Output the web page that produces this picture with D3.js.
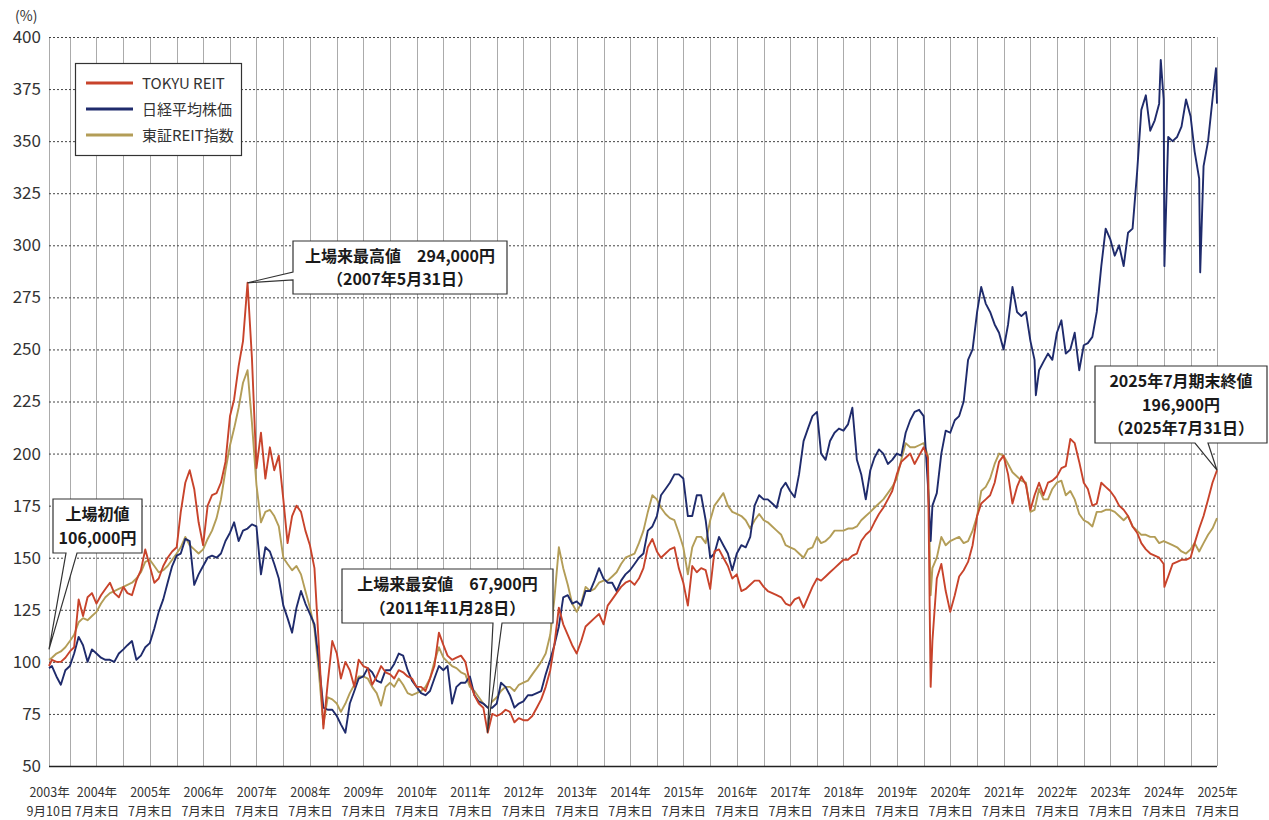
<!DOCTYPE html>
<html>
<head>
<meta charset="utf-8">
<script src="https://cdn.jsdelivr.net/npm/d3@7"></script>
<style>
body { margin: 0; background: #fff; }
svg { display: block; font-family: "Noto Sans CJK JP", "Noto Sans", sans-serif; }
</style>
</head>
<body>
<div id="chart"></div>
<script>
// 上場日（2003年9月10日）を起点とした指数 (%)
// 値は2003年9月末から2025年7月末までの月末値
var startDate = "2003-09-10";
var endDate = "2025-07-31";
var startTokyu = 98, startNikkei = 97, startReit = 101;

var tokyu = [
  101, 100, 100, 102,
  105, 107, 130, 122, 131, 133, 128, 132, 135, 138, 133, 131,
  136, 133, 132, 139, 144, 154, 146, 138, 140, 146, 150, 153,
  155, 172, 186, 192, 183, 167, 156, 175, 180, 181, 186, 196,
  218, 226, 242, 254, 282, 246, 193, 210, 188, 203, 192, 199,
  178, 157, 170, 175, 172, 163, 156, 145, 108, 68, 90, 110,
  104, 92, 100, 96, 88, 101, 98, 97, 89, 93, 98, 95,
  94, 92, 96, 95, 93, 92, 88, 88, 86, 92, 98, 114,
  108, 103, 101, 102, 103, 100, 90, 84, 80, 78, 66, 75,
  74, 75, 77, 76, 71, 73, 72, 72, 74, 78, 82, 88,
  96, 108, 126, 118, 113, 108, 104, 110, 117, 119, 121, 123,
  118, 127, 130, 133, 136, 138, 139, 137, 140, 145, 155, 159,
  153, 150, 152, 154, 155, 145, 138, 127, 146, 143, 145, 144,
  135, 153, 154, 150, 146, 140, 142, 134, 135, 137, 139, 139,
  136, 134, 133, 132, 131, 128, 127, 130, 131, 126, 131, 136,
  140, 139, 141, 143, 145, 147, 149, 149, 151, 152, 158, 161,
  163, 167, 171, 174, 178, 182, 190, 196, 198, 200, 195, 199,
  203, 198, 110, 140, 147, 134, 124, 132, 141, 144, 148, 156,
  170, 176, 178, 180, 186, 196, 199, 190, 176, 184, 189, 185,
  173, 180, 186, 180, 186, 187, 189, 193, 194, 207, 205, 196,
  186, 183, 175, 176, 186, 184, 182, 179, 175, 173, 170, 165,
  162, 157, 154, 152, 151, 150, 147, 141, 147, 148, 149, 149,
  150, 157, 164, 170, 178, 186, 192
];

var nikkei = [
  98, 93, 89, 96,
  98, 104, 112, 108, 100, 106, 104, 102, 101, 101, 100, 104,
  106, 108, 110, 101, 103, 107, 109, 116, 124, 130, 138, 146,
  151, 152, 159, 158, 137, 142, 146, 150, 151, 150, 152, 158,
  162, 167, 158, 163, 164, 166, 165, 142, 155, 153, 147, 140,
  127, 121, 114, 126, 134, 128, 123, 118, 100, 78, 77, 77,
  74, 70, 66, 80, 86, 92, 93, 97, 95, 91, 90, 96,
  96, 99, 104, 103, 96, 91, 88, 85, 84, 86, 92, 98,
  96, 98, 80, 88, 90, 90, 93, 84, 81, 80, 78, 78,
  80, 90, 88, 84, 78, 80, 81, 84, 84, 85, 86, 94,
  101, 108, 117, 131, 132, 128, 129, 127, 134, 134, 139, 145,
  140, 138, 138, 134, 139, 142, 144, 147, 150, 152, 163, 165,
  170, 180, 183, 186, 190, 190, 188, 170, 170, 180, 180, 168,
  150, 152, 160, 156, 152, 144, 152, 156, 155, 160, 175, 180,
  178, 178, 176, 174, 183, 186, 182, 179, 190, 206, 212, 218,
  220, 200, 197, 206, 210, 212, 211, 214, 222, 197, 190, 178,
  192, 198, 202, 200, 195, 197, 200, 199, 210, 216, 220, 221,
  218, 185, 175, 181, 200, 211, 210, 216, 218, 225, 245, 250,
  268, 280, 272, 268, 262, 258, 250, 262, 280, 268, 266, 268,
  254, 245, 240, 244, 248, 245, 258, 264, 248, 250, 258, 240,
  252, 253, 256, 268, 290, 308, 303, 295, 300, 290, 306, 308,
  335, 365, 372, 355, 360, 368, 370, 352, 350, 352, 357, 370,
  362, 345, 332, 338, 350, 370, 368
];

var reit = [
  102, 104, 105, 107,
  110, 113, 119, 121, 120, 122, 124, 128, 131, 133, 134, 135,
  136, 137, 138, 140, 143, 148, 149, 146, 143, 144, 146, 149,
  152, 155, 160, 156, 154, 152, 154, 159, 163, 169, 178, 192,
  204, 212, 222, 234, 240, 215, 185, 167, 172, 173, 170, 165,
  150, 147, 144, 146, 142, 134, 126, 116, 95, 70, 83, 82,
  80, 76, 80, 85, 89, 93, 93, 92, 88, 85, 79, 88,
  90, 88, 92, 89, 85, 84, 85, 86, 88, 92, 100, 107,
  102, 100, 98, 97, 95, 94, 88, 86, 83, 80, 78, 81,
  83, 86, 88, 88, 86, 89, 90, 91, 94, 97, 100, 104,
  113, 130, 155, 145, 137, 128, 124, 128, 136, 134, 135, 138,
  139, 139, 141, 143, 147, 150, 151, 152, 157, 163, 172, 180,
  178, 174, 171, 169, 168, 162, 155, 142, 155, 160, 160, 157,
  168, 175, 178, 181, 175, 172, 171, 170, 168, 164, 168, 171,
  168, 167, 165, 163, 161, 156, 155, 154, 152, 150, 154, 155,
  160, 157, 158, 160, 163, 163, 163, 164, 164, 165, 168, 170,
  172, 174, 176, 178, 181, 184, 188, 197, 205, 203, 203, 204,
  205, 199, 145, 150, 160, 156, 158, 159, 160, 157, 158, 163,
  170, 182, 184, 188, 195, 200, 199, 195, 191, 189, 187, 186,
  172, 173, 183, 178, 178, 183, 186, 187, 180, 182, 178, 171,
  168, 167, 165, 172, 172, 173, 173, 172, 170, 168, 170, 165,
  163, 161, 161, 160, 160, 157, 158, 157, 156, 155, 153, 152,
  154, 157, 153, 157, 161, 164, 169
];

// 月中の急変動
var tokyuExtra = [["2020-03-19", 88], ["2024-08-05", 136]];
var nikkeiExtra = [["2020-03-19", 158], ["2022-03-09", 228], ["2024-07-11", 389],
  ["2024-08-05", 290], ["2025-04-07", 287], ["2025-07-24", 385]];
var reitExtra = [["2020-03-19", 132]];

var seriesNames = ["TOKYU REIT", "日経平均株価", "東証REIT指数"];
var seriesColors = ["#c8432b", "#1f2b6c", "#b39d57"];

var yTicks = [50, 75, 100, 125, 150, 175, 200, 225, 250, 275, 300, 325, 350, 375, 400];
var tickYears = [2003, 2004, 2005, 2006, 2007, 2008, 2009, 2010, 2011, 2012, 2013, 2014,
  2015, 2016, 2017, 2018, 2019, 2020, 2021, 2022, 2023, 2024, 2025];

var callouts = [
  {date: startDate, value: 106, lines: ["上場初値", "106,000円"]},
  {date: "2007-05-31", value: 282, lines: ["上場来最高値　294,000円", "（2007年5月31日）"]},
  {date: "2011-11-28", value: 66, lines: ["上場来最安値　67,900円", "（2011年11月28日）"]},
  {date: endDate, value: 192, lines: ["2025年7月期末終値", "196,900円", "（2025年7月31日）"]}
];
// 吹き出しの枠（ピクセル）
var boxes = [
  {x: 53, y: 499, w: 89, h: 54, side: "bottom", b0: 66, b1: 77},
  {x: 293, y: 241, w: 214, h: 53, side: "left", b0: 272, b1: 280},
  {x: 342, y: 569, w: 211, h: 54, side: "bottom", b0: 493, b1: 502},
  {x: 1095, y: 366, w: 172, h: 77, side: "bottom", b0: 1195, b1: 1208}
];

var parse = d3.timeParse("%Y-%m-%d");

function build(start, vals, extra) {
  var pts = [{date: parse(startDate), value: start}];
  vals.forEach(function(v, i) { pts.push({date: new Date(2003, 9 + i, 0), value: v}); });
  extra.forEach(function(e) { pts.push({date: parse(e[0]), value: e[1]}); });
  pts.sort(function(a, b) { return a.date - b.date; });
  return pts;
}

var series = [build(startTokyu, tokyu, tokyuExtra), build(startNikkei, nikkei, nikkeiExtra), build(startReit, reit, reitExtra)];

var margin = {t: 37, r: 52, b: 54, l: 49};
var width = 1269 - margin.l - margin.r,
    height = 820 - margin.t - margin.b;

var svg = d3.select("#chart").append("svg").attr("width", 1269).attr("height", 820);

var x = d3.scaleTime().domain([parse(startDate), parse(endDate)]).range([0, width]);
var y = d3.scaleLinear().domain([50, 400]).range([height, 0]);

var g = svg.append("g").attr("transform", "translate(" + margin.l + "," + margin.t + ")");

// vertical grid: 上場日と各期末（1月末・7月末）
var gridDates = [parse(startDate)];
for (var yr = 2004; yr <= 2025; yr++) {
  gridDates.push(new Date(yr, 1, 0));
  gridDates.push(new Date(yr, 7, 0));
}
g.append("g").selectAll("line").data(gridDates).enter().append("line")
  .attr("x1", function(d) { return Math.round(x(d)) + 0.5; })
  .attr("x2", function(d) { return Math.round(x(d)) + 0.5; })
  .attr("y1", 0).attr("y2", height)
  .attr("stroke", "#ababab").attr("stroke-width", 1);

// y axis + dotted grid
var axisY = d3.axisLeft(y).tickValues(yTicks).tickSizeInner(-width).tickSizeOuter(0).tickPadding(8);
var gy = g.append("g").call(axisY);
gy.select(".domain").remove();
gy.selectAll(".tick line")
  .attr("stroke", function(d) { return d === 50 ? "#222" : "#444"; })
  .attr("stroke-width", function(d) { return d === 50 ? 1.5 : 1; })
  .attr("stroke-dasharray", function(d) { return d === 50 ? null : "2,2"; });
gy.selectAll(".tick text").attr("font-size", 17).attr("fill", "#333")
  .attr("font-family", "'Noto Sans CJK JP', sans-serif");

svg.append("text").attr("x", 15).attr("y", 21).attr("font-size", 14).attr("fill", "#333").text("(%)");

// x axis labels
var tickDates = tickYears.map(function(yy) { return yy === 2003 ? parse(startDate) : new Date(yy, 7, 0); });
var axisX = d3.axisBottom(x).tickValues(tickDates).tickSize(0).tickFormat("");
var gx = g.append("g").attr("transform", "translate(0," + height + ")").call(axisX);
gx.select(".domain").remove();
gx.selectAll(".tick").each(function(d, i) {
  var t = d3.select(this).append("text").attr("fill", "#333").attr("font-size", 12.5)
    .attr("text-anchor", "middle").attr("font-family", "'Noto Sans CJK JP', sans-serif");
  t.append("tspan").attr("x", 0).attr("y", 31).text(tickYears[i] + "年");
  t.append("tspan").attr("x", 0).attr("y", 50).text(i === 0 ? "9月10日" : "7月末日");
});

// lines (gold, navy, red)
var line = d3.line().x(function(d) { return x(d.date); }).y(function(d) { return y(d.value); });
[2, 1, 0].forEach(function(k) {
  g.append("path").datum(series[k])
    .attr("fill", "none").attr("stroke", seriesColors[k])
    .attr("stroke-width", 1.9).attr("stroke-linejoin", "round")
    .attr("d", line);
});

// legend
var lg = svg.append("g");
lg.append("rect").attr("x", 75.5).attr("y", 63.5).attr("width", 166).attr("height", 92)
  .attr("fill", "#fff").attr("stroke", "#333").attr("stroke-width", 1.2);
seriesNames.forEach(function(name, i) {
  lg.append("line").attr("x1", 86).attr("x2", 133).attr("y1", 83 + i * 26).attr("y2", 83 + i * 26)
    .attr("stroke", seriesColors[i]).attr("stroke-width", 3);
  lg.append("text").attr("x", 142).attr("y", 88.5 + i * 26).attr("font-size", 15).attr("fill", "#333").text(name);
});

// callouts
var fs = 16, lh = 23.3;
callouts.forEach(function(c, i) {
  var b = boxes[i];
  var tx = margin.l + x(parse(c.date)), ty = margin.t + y(c.value);
  var p;
  if (b.side === "bottom") {
    p = "M" + b.x + "," + b.y + "H" + (b.x + b.w) + "V" + (b.y + b.h) + "H" + b.b1 +
      "L" + tx + "," + ty + "L" + b.b0 + "," + (b.y + b.h) + "H" + b.x + "Z";
  } else {
    p = "M" + b.x + "," + b.y + "H" + (b.x + b.w) + "V" + (b.y + b.h) + "H" + b.x +
      "V" + b.b1 + "L" + tx + "," + ty + "L" + b.x + "," + b.b0 + "Z";
  }
  svg.append("path").attr("d", p).attr("fill", "#fff").attr("stroke", "#333").attr("stroke-width", 1.2);
  var top = b.y + b.h / 2 - (c.lines.length - 1) * lh / 2 + 6;
  c.lines.forEach(function(s, j) {
    svg.append("text").attr("x", b.x + b.w / 2).attr("y", top + j * lh)
      .attr("text-anchor", "middle").attr("font-size", fs).attr("font-weight", "bold")
      .attr("fill", "#1a1a1a").text(s);
  });
});
</script>
</body>
</html>
